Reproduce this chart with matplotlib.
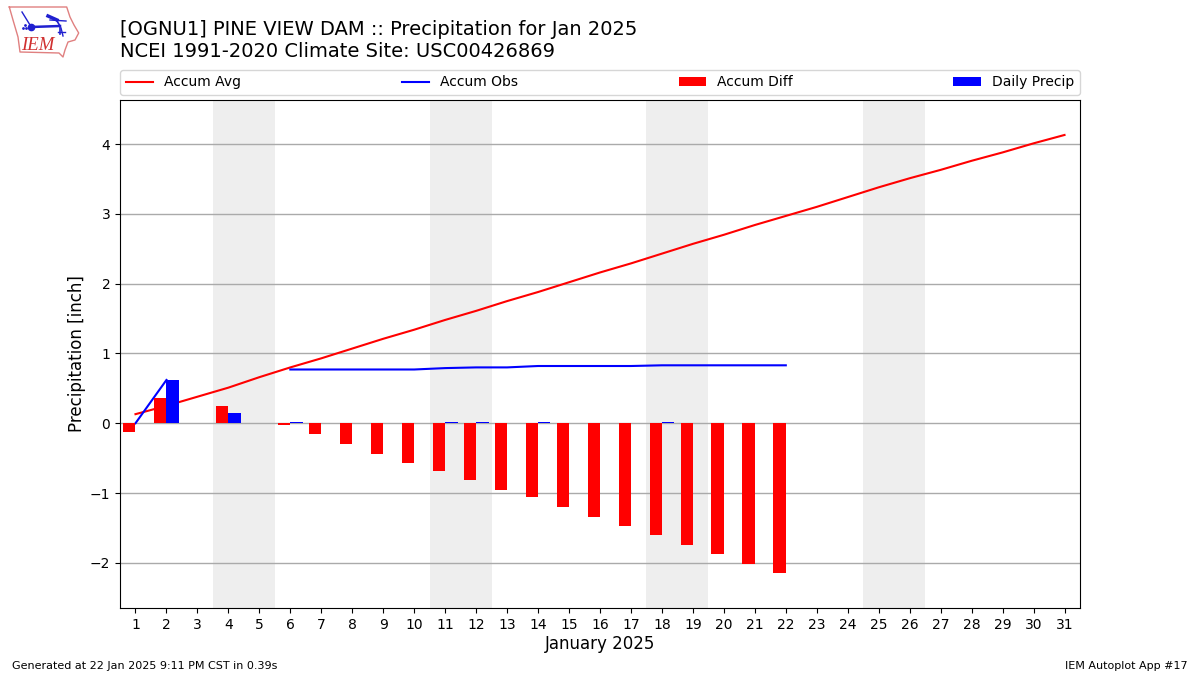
import numpy as np
import matplotlib
matplotlib.use("Agg")
import matplotlib.pyplot as plt
from matplotlib.lines import Line2D

nan = np.nan
days = list(range(1, 32))
accum_avg = [0.13, 0.25, 0.38, 0.51, 0.66, 0.80, 0.93, 1.07, 1.21, 1.34, 1.48,
             1.61, 1.75, 1.88, 2.02, 2.16, 2.29, 2.43, 2.57, 2.70, 2.84, 2.97,
             3.10, 3.24, 3.38, 3.51, 3.63, 3.76, 3.88, 4.01, 4.13]
accum_obs = [0.0, 0.62, nan, 0.76, nan, 0.77, 0.77, 0.77, 0.77, 0.77, 0.79,
             0.80, 0.80, 0.82, 0.82, 0.82, 0.82, 0.83, 0.83, 0.83, 0.83, 0.83]
accum_diff = [-0.12, 0.36, nan, 0.25, nan, -0.03, -0.15, -0.30, -0.44, -0.57,
              -0.68, -0.81, -0.95, -1.05, -1.20, -1.34, -1.47, -1.60, -1.74,
              -1.87, -2.01, -2.14]
daily_precip = [0.0, 0.62, nan, 0.14, nan, 0.015, 0, 0, 0, 0, 0.015, 0.015, 0, 0.015,
                0, 0, 0, 0.015, 0, 0, 0, 0]
weekends = [(3.5, 5.5), (10.5, 12.5), (17.5, 19.5), (24.5, 26.5)]
obs_days = days[:len(accum_obs)]

fig = plt.figure(figsize=(12, 6.75), dpi=100)
ax = fig.add_axes([120/1200, 1-608/675, 960/1200, 508/675])

for a, b in weekends:
    ax.axvspan(a, b, color="#eeeeee", lw=0, zorder=0)
ax.plot(days, accum_avg, color="red", lw=1.5, label="Accum Avg", zorder=2)
ax.plot(obs_days, accum_obs, color="blue", lw=1.5, label="Accum Obs", zorder=2)
ax.bar(np.array(obs_days) - 0.2, accum_diff, width=0.4, color="red", label="Accum Diff", zorder=3)
ax.bar(np.array(obs_days) + 0.2, daily_precip, width=0.4, color="blue", label="Daily Precip", zorder=3)

ax.set_xlim(0.5, 31.5)
ax.set_ylim(-2.647, 4.631)
ax.set_xticks(days)
ax.set_yticks([-2, -1, 0, 1, 2, 3, 4])
ax.grid(axis="y", color="#aaaaaa", lw=1.0)
ax.set_axisbelow(True)
ax.tick_params(labelsize=10)
ax.set_xlabel("January 2025", fontsize=12, labelpad=2.5)
ax.set_ylabel("Precipitation [inch]", fontsize=12, labelpad=2.5)
ax.legend(loc="lower left", bbox_to_anchor=(0, 1 + 5/508, 1, 26/508), mode="expand", ncol=4,
          fontsize=10, borderaxespad=0)

fig.text(120/1200, 1-20/675, "[OGNU1] PINE VIEW DAM :: Precipitation for Jan 2025",
         fontsize=14, va="top", ha="left")
fig.text(120/1200, 1-42/675, "NCEI 1991-2020 Climate Site: USC00426869",
         fontsize=14, va="top", ha="left")
fig.text(12/1200, 1-666/675, "Generated at 22 Jan 2025 9:11 PM CST in 0.39s", fontsize=8, va="center", ha="left")
fig.text(1188/1200, 1-666/675, "IEM Autoplot App #17", fontsize=8, va="center", ha="right")

# logo, drawn in pixel coordinates of the figure
def px(xs, ys):
    return [x/1200 for x in xs], [1-y/675 for y in ys]
lx = [9.3, 66.7, 70, 74, 78.7, 75, 68, 65, 63, 59, 20, 18, 13, 9.3]
ly = [7, 7, 17, 25, 33, 40, 42, 50, 57, 53, 52, 37, 20, 7]
x, y = px(lx, ly)
fig.add_artist(Line2D(x, y, color="#e08080", lw=1))
for xs, ys, lw in [([31, 60], [27, 26], 1.8), ([50, 66], [20, 21], 1.0), ([57, 60, 60], [21, 26, 34], 1.2),
                   ([48, 57], [16, 20], 2.5), ([22, 30], [12, 25], 1.0), ([58, 65], [32, 32], 1.0),
                   ([61, 63], [28, 36], 1.0)]:
    x, y = px(xs, ys)
    fig.add_artist(Line2D(x, y, color="#2020d0", lw=lw))
x, y = px([31], [27])
fig.add_artist(Line2D(x, y, color="#2020d0", marker="o", ms=4.5))
x, y = px([23, 26, 24.5], [28, 28, 25])
fig.add_artist(Line2D(x, y, color="#2020d0", marker=".", ms=2, lw=0))
fig.text(21/1200, 1-46/675, "IEM", color="#d03030", fontsize=13.5, style="italic",
         family="Liberation Serif", va="center", ha="left")

fig.savefig("out.png", dpi=100)
